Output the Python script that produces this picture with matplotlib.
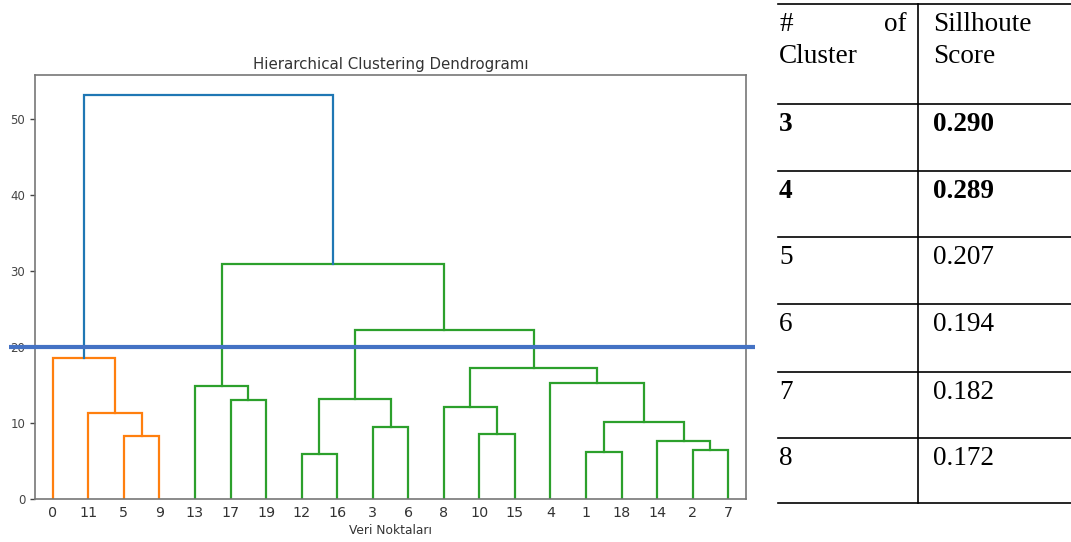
import matplotlib
matplotlib.use("Agg")
import matplotlib.pyplot as plt
from matplotlib.lines import Line2D
from matplotlib.transforms import blended_transform_factory

# ---- dendrogram data ----
leaf_order = [0, 11, 5, 9, 13, 17, 19, 12, 16, 3, 6, 8, 10, 15, 4, 1, 18, 14, 2, 7]

# merges: (name, left child, right child, height); children are leaf ids or merge names
merges = [
    ("A", 5, 9, 8.3),
    ("B", 11, "A", 11.35),
    ("C", 0, "B", 18.6),
    ("D", 17, 19, 13.05),
    ("E", 13, "D", 14.9),
    ("F", 12, 16, 5.9),
    ("G", 3, 6, 9.5),
    ("H", "F", "G", 13.2),
    ("I", 10, 15, 8.6),
    ("J", 8, "I", 12.1),
    ("K", 1, 18, 6.2),
    ("L", 2, 7, 6.5),
    ("M", 14, "L", 7.65),
    ("N", "K", "M", 10.2),
    ("O", 4, "N", 15.3),
    ("P", "J", "O", 17.3),
    ("Q", "H", "P", 22.3),
    ("R", "E", "Q", 30.9),
    ("S", "C", "R", 53.2),
]
cluster_colors = {"C": "#ff7f0e", "R": "#2ca02c"}
above_color = "#1f77b4"
cut_height = 20

# ---- table data ----
table_header = [("#", "of", "Cluster"), ("Sillhoute", "Score")]
n_clusters = ["3", "4", "5", "6", "7", "8"]
sil_scores = ["0.290", "0.289", "0.207", "0.194", "0.182", "0.172"]
bold_rows = [True, True, False, False, False, False]

W, H = 1071, 542
fig = plt.figure(figsize=(W / 100, H / 100), dpi=100)
ax = fig.add_axes([35 / W, 1 - 499 / H, (746 - 35) / W, (499 - 75) / H])

# leaf positions as scipy places them: 5, 15, 25, ...
pos = {leaf: 5 + 10 * i for i, leaf in enumerate(leaf_order)}
height = {leaf: 0.0 for leaf in leaf_order}
parent_of = {}
for name, a, b, h in merges:
    parent_of[a] = name
    parent_of[b] = name

def color_for(name):
    node = name
    while node is not None:
        if node in cluster_colors:
            return cluster_colors[node]
        node = parent_of.get(node)
    return above_color

for name, a, b, h in merges:
    xa, xb = pos[a], pos[b]
    ya, yb = height[a], height[b]
    ax.plot([xa, xa, xb, xb], [ya, h, h, yb], color=color_for(name), lw=1.6,
            solid_joinstyle="miter")
    pos[name] = (xa + xb) / 2
    height[name] = h

max_h = max(m[3] for m in merges)
ax.set_xlim(0, 10 * len(leaf_order))
ax.set_ylim(0, max_h * 1.05)
ax.set_xticks([5 + 10 * i for i in range(len(leaf_order))])
ax.set_xticklabels([str(l) for l in leaf_order], fontsize=10.3, color="#333333")
ax.set_yticks([0, 10, 20, 30, 40, 50])
ax.tick_params(axis="y", labelsize=8.5, colors="#444444", length=3.5, width=1)
ax.tick_params(axis="x", length=0, pad=5)
for sp in ax.spines.values():
    sp.set_color("#777777")
    sp.set_linewidth(1.2)
ax.set_title("Hierarchical Clustering Dendrogramı", fontsize=10.8, color="#333333", pad=4)
ax.set_xlabel("Veri Noktaları", fontsize=8.8, color="#333333", labelpad=3)

# cut line across the chart
tr = blended_transform_factory(fig.transFigure, ax.transData)
fig.add_artist(Line2D([9 / W, 755 / W], [cut_height, cut_height], transform=tr,
                      color="#4472c4", lw=3, solid_capstyle="butt"))

# ---- silhouette table ----
def fy(py):
    return 1 - py / H

def fx(px):
    return px / W

row_lines = [4, 104, 171, 237, 304, 372, 438, 503]
for py in row_lines:
    fig.add_artist(Line2D([fx(778), fx(1071)], [fy(py), fy(py)], color="black", lw=1.2))
fig.add_artist(Line2D([fx(918), fx(918)], [fy(4), fy(503)], color="black", lw=1.2))

serif = "Liberation Serif"
fs = 19.6
fig.text(fx(779), fy(31), table_header[0][0], fontsize=fs, family=serif, va="baseline")
fig.text(fx(907), fy(31), table_header[0][1], fontsize=fs, family=serif, va="baseline", ha="right")
fig.text(fx(779), fy(63), table_header[0][2], fontsize=fs, family=serif, va="baseline")
fig.text(fx(933), fy(31), table_header[1][0], fontsize=fs, family=serif, va="baseline")
fig.text(fx(933), fy(63), table_header[1][1], fontsize=fs, family=serif, va="baseline")

for i, (k, s, b) in enumerate(zip(n_clusters, sil_scores, bold_rows)):
    base = row_lines[i + 1] + 27
    w = "bold" if b else "normal"
    fig.text(fx(779), fy(base), k, fontsize=fs, family=serif, weight=w, va="baseline")
    fig.text(fx(933), fy(base), s, fontsize=fs, family=serif, weight=w, va="baseline")

fig.savefig("out.png", dpi=100)
